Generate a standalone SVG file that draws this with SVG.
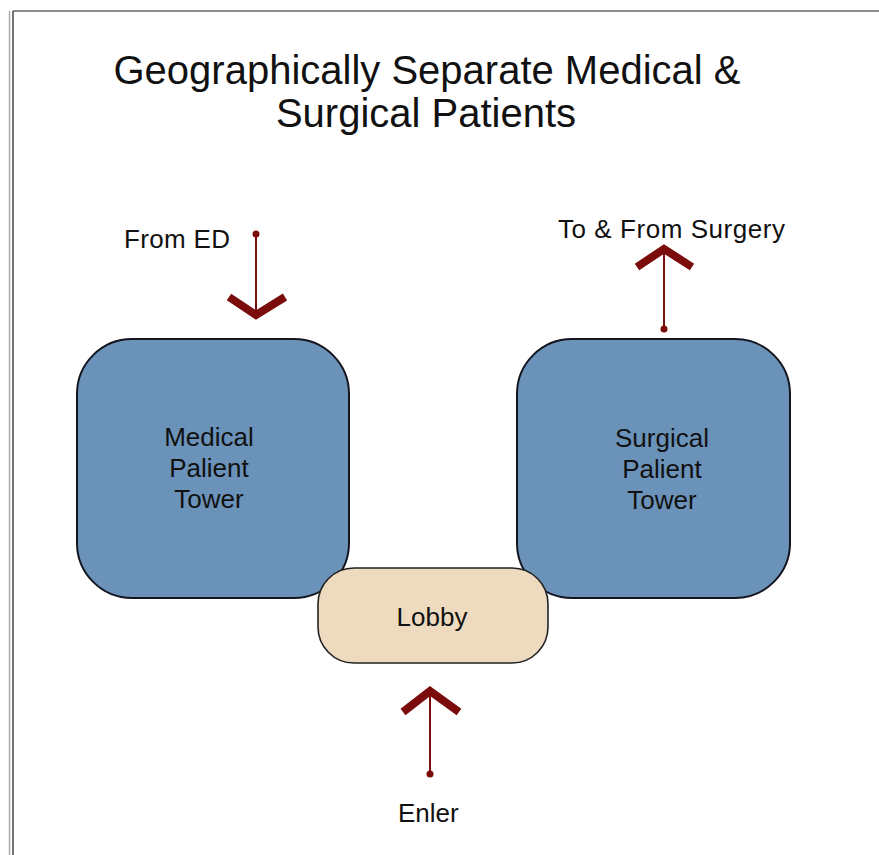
<svg xmlns="http://www.w3.org/2000/svg" width="879" height="855" viewBox="0 0 879 855">
<style>
text{font-family:"Liberation Sans",Arial,sans-serif;fill:#111;}
.title{font-size:40px;text-anchor:middle;}
.lbl{font-size:26px;}
.node{font-size:26px;text-anchor:middle;}
.tower{fill:#6b93b9;stroke:#15151f;stroke-width:2;}
.lobby{fill:#eedabf;stroke:#222;stroke-width:1.6;}
.shaft{stroke:#7a0c0c;stroke-width:2;fill:none;}
.head{stroke:#7a0c0c;stroke-width:8;fill:none;stroke-linejoin:miter;stroke-linecap:butt;}
.dot{fill:#7a0c0c;}
</style>
<rect x="0" y="0" width="879" height="855" fill="#fff"/>
<g id="frame">
<line x1="13" y1="11" x2="879" y2="11" stroke="#666" stroke-width="1.5"/>
<line x1="9.5" y1="11" x2="9.5" y2="855" stroke="#aaa" stroke-width="1.5"/>
<line x1="13" y1="11" x2="13" y2="855" stroke="#444" stroke-width="1.5"/>
</g>
<g id="title">
<text class="title" x="427" y="84">Geographically Separate Medical &amp;</text>
<text class="title" x="426" y="127">Surgical Patients</text>
</g>
<g id="medical">
<rect class="tower" x="77" y="339" width="272" height="259" rx="55" ry="55"/>
<text class="node" x="209" y="446">Medical</text>
<text class="node" x="209" y="477">Palient</text>
<text class="node" x="209" y="508">Tower</text>
</g>
<g id="surgical">
<rect class="tower" x="517" y="339" width="273" height="259" rx="55" ry="55"/>
<text class="node" x="662" y="447">Surgical</text>
<text class="node" x="662" y="478">Palient</text>
<text class="node" x="662" y="509">Tower</text>
</g>
<g id="lobby">
<rect class="lobby" x="318" y="568" width="230" height="95" rx="36" ry="36"/>
<text class="node" x="432" y="626">Lobby</text>
</g>
<g id="labels">
<text class="lbl" x="124" y="248" textLength="106" lengthAdjust="spacing">From ED</text>
<text class="lbl" x="558" y="238" textLength="227" lengthAdjust="spacing">To &amp; From Surgery</text>
<text class="lbl" x="398" y="822">Enler</text>
</g>
<g id="connectors">
<line class="shaft" x1="256" y1="234" x2="256" y2="314"/>
<circle class="dot" cx="256" cy="234" r="3.5"/>
<polyline class="head" points="229,297 256,315 285,297"/>
<line class="shaft" x1="664" y1="329" x2="664" y2="250"/>
<circle class="dot" cx="664" cy="329" r="3.5"/>
<polyline class="head" points="637,267 664,249 692,267"/>
<line class="shaft" x1="430" y1="774" x2="430" y2="692"/>
<circle class="dot" cx="430" cy="774" r="3.5"/>
<polyline class="head" points="403,712 430,691 459,712"/>
</g>
</svg>
